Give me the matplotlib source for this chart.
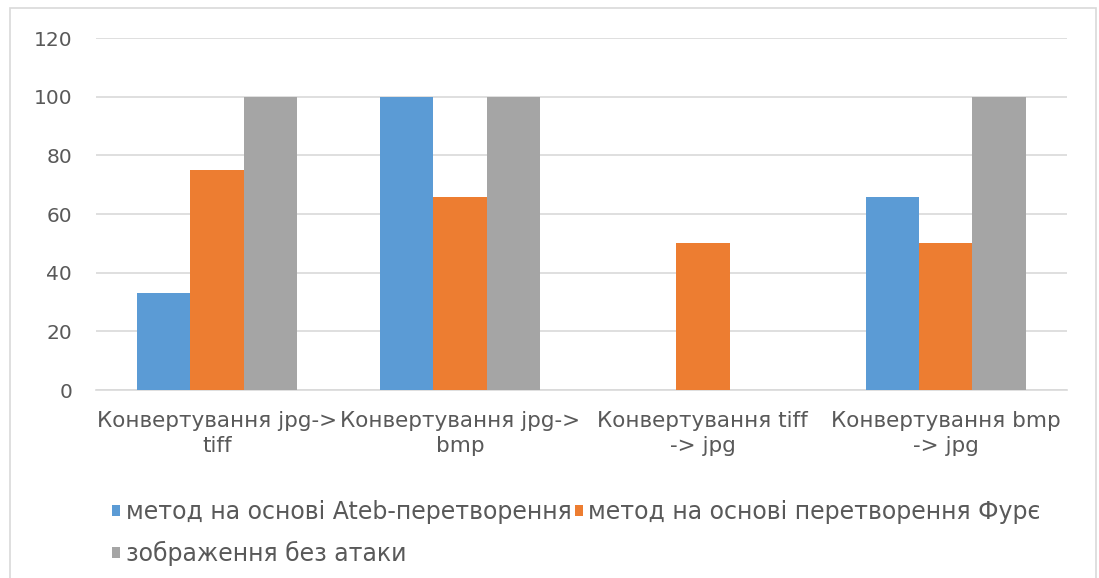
import matplotlib
matplotlib.use('Agg')
import matplotlib.pyplot as plt
from matplotlib.patches import Rectangle
import numpy as np

categories = ['Конвертування jpg->\ntiff', 'Конвертування jpg->\nbmp',
              'Конвертування tiff\n-> jpg', 'Конвертування bmp\n-> jpg']
series_names = ['метод на основі Ateb-перетворення',
                'метод на основі перетворення Фурє',
                'зображення без атаки']
ateb = [33, 100, 0, 66]
fourier = [75, 66, 50, 50]
no_attack = [100, 100, 0, 100]
yticks = [0, 20, 40, 60, 80, 100, 120]

colors = ['#5B9BD5', '#ED7D31', '#A5A5A5']
text_color = '#595959'

plt.rcParams['font.family'] = ['DejaVu Sans']

fig = plt.figure(figsize=(10.99, 5.78), dpi=100)
ax = fig.add_axes([0.087, 0.325, 0.884, 0.609])

# chart frame
fig.patches.append(Rectangle((0.009, -0.02), 0.988, 1.006, transform=fig.transFigure,
                             fill=False, edgecolor='#D9D9D9', linewidth=1.2))

x = np.arange(len(categories))
w = 0.22
for i, (vals, name) in enumerate(zip([ateb, fourier, no_attack], series_names)):
    ax.bar(x + (i - 1) * w, vals, width=w, color=colors[i], label=name, zorder=3)

ax.set_xlim(-0.5, len(categories) - 0.5)
ax.set_ylim(0, 120)
ax.set_yticks(yticks)
ax.set_xticks(x)
ax.set_xticklabels(categories, fontsize=15.5, color=text_color, linespacing=1.3)
ax.tick_params(axis='y', labelsize=14.5, labelcolor=text_color, length=0, pad=17)
ax.tick_params(axis='x', length=0, pad=15)
ax.grid(axis='y', color='#D9D9D9', linewidth=1.2, zorder=0)
for s in ['top', 'right', 'left']:
    ax.spines[s].set_visible(False)
ax.spines['bottom'].set_color('#D9D9D9')
ax.spines['bottom'].set_linewidth(1.2)

# row-wise order for a two-column legend
handles, labels = ax.get_legend_handles_labels()
order = [0, 2, 1]
fig.legend([handles[k] for k in order], [labels[k] for k in order],
           loc='upper left', bbox_to_anchor=(0.083, 0.172), ncol=2,
           frameon=False, fontsize=17, labelcolor=text_color,
           handlelength=0.34, handleheight=0.34, handletextpad=0.25,
           columnspacing=0.1, labelspacing=0.7)

fig.savefig('out.png', dpi=100)
